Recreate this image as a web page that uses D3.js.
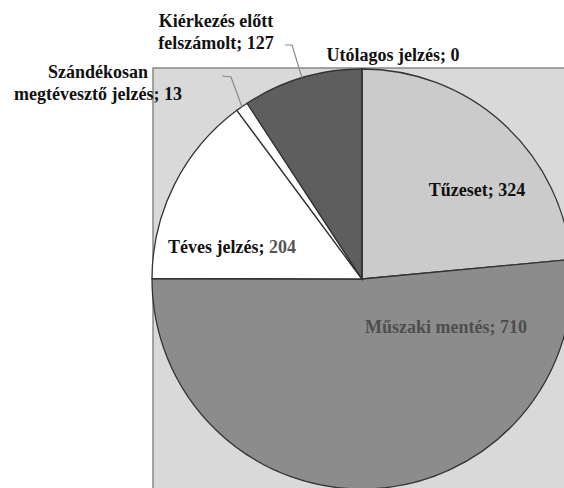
<!DOCTYPE html>
<meta charset="utf-8">
<style>
    body { margin: 0; background: #fff; }
    svg { display: block; }
    .slice { stroke: #333; stroke-width: 1.3px; }
    .leader { fill: none; stroke: #8a8a8a; stroke-width: 1.2px; }
</style>
<script src="https://cdn.jsdelivr.net/npm/d3@7"></script>
<svg width="564" height="488"></svg>
<script>
    // adatok
    var kategoriak = ["Tűzeset", "Műszaki mentés", "Téves jelzés", "Szándékosan megtévesztő jelzés", "Kiérkezés előtt felszámolt", "Utólagos jelzés"];
    var ertekek = [324, 710, 204, 13, 127, 0];
    var szinek = ["#cbcbcb", "#8c8c8c", "#ffffff", "#ffffff", "#5e5e5e", "#cbcbcb"];

    var svg = d3.select("svg"),
        cx = 362, cy = 279, r = 210;

    // plot terület
    svg.append("rect")
        .attr("x", 153).attr("y", 68)
        .attr("width", 430).attr("height", 440)
        .attr("fill", "#d9d9d9")
        .attr("stroke", "#888").attr("stroke-width", 1.5);

    var pie = d3.pie().sort(null).value(function (d) { return d; });
    var arc = d3.arc().innerRadius(0).outerRadius(r);
    var adat = pie(ertekek);

    var g = svg.append("g").attr("transform", "translate(" + cx + "," + cy + ")");

    g.selectAll(".slice")
        .data(adat)
        .enter().append("path")
        .attr("class", "slice")
        .attr("d", arc)
        .attr("fill", function (d, i) { return szinek[i]; });

    // vezető vonalak
    var pont = d3.arc().innerRadius(r).outerRadius(r);
    function vezeto(i, p1, p2) {
        var c = pont.centroid(adat[i]);
        svg.append("path")
            .attr("class", "leader")
            .attr("d", d3.line()([p1, p2, [cx + c[0], cy + c[1]]]));
    }
    vezeto(4, [285, 45], [292, 45]);
    vezeto(3, [222, 76], [231, 77]);

    // címkék
    function cimke(x, y, sorok, szin) {
        var t = svg.append("text")
            .attr("x", x).attr("y", y)
            .attr("text-anchor", "middle")
            .style("font-family", "'Liberation Serif', serif")
            .style("font-weight", "bold")
            .style("font-size", "18px")
            .style("fill", szin || "#111");
        sorok.forEach(function (s, k) {
            t.append("tspan").attr("x", x).attr("dy", k ? 22 : 0).text(s);
        });
        return t;
    }

    cimke(216, 27, ["Kiérkezés előtt", "felszámolt; " + ertekek[4]]);
    cimke(98, 78, ["Szándékosan", "megtévesztő jelzés; " + ertekek[3]]);
    cimke(393, 61, ["Utólagos jelzés; " + ertekek[5]]);
    cimke(477, 196, ["Tűzeset; " + ertekek[0]]);

    var tv = cimke(232, 253, []);
    tv.append("tspan").text("Téves jelzés; ");
    tv.append("tspan").style("fill", "#555").text(ertekek[2]);

    cimke(446, 333, ["Műszaki mentés; " + ertekek[1]], "#4e4e4e");
</script>
